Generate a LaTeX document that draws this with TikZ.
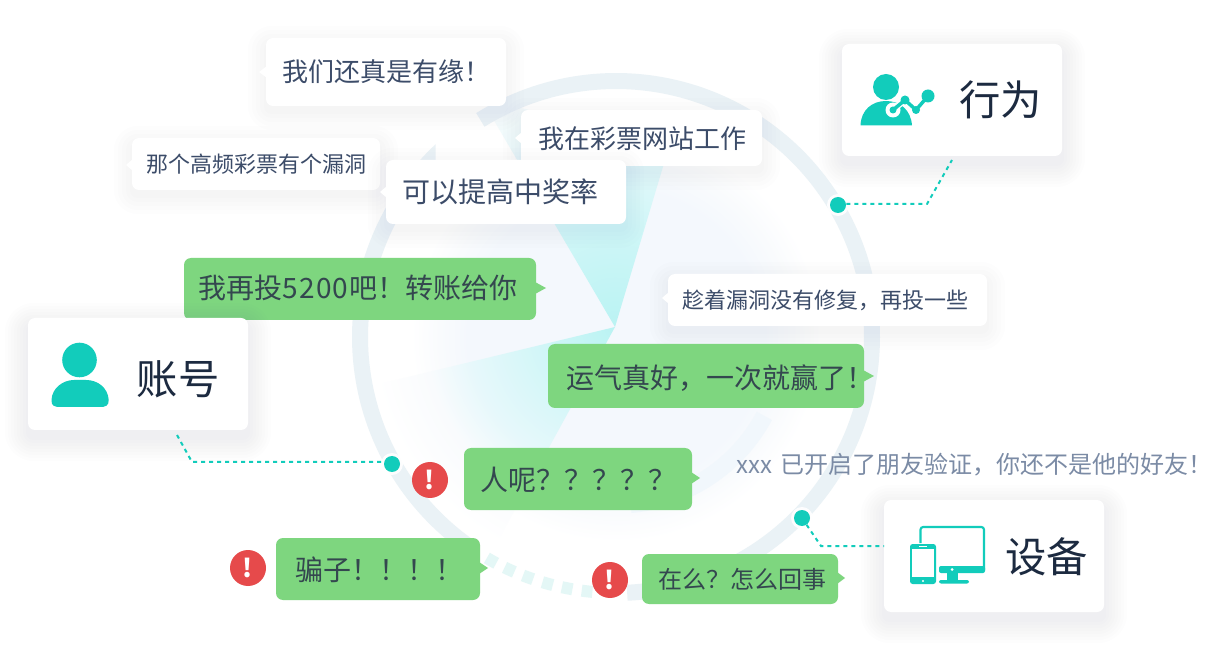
\documentclass[tikz,border=0pt]{standalone}
\usepackage{fontspec}
\setmainfont{Noto Sans CJK SC}
\usetikzlibrary{calc}
\definecolor{ringc}{HTML}{EAF2F6}
\definecolor{dashc}{HTML}{E4F7F6}
\definecolor{teal}{HTML}{12CCBB}
\definecolor{greenb}{HTML}{7ED67F}
\definecolor{redc}{HTML}{E64A4B}
\definecolor{txtw}{HTML}{3C4C69}
\definecolor{txtg}{HTML}{34474F}
\definecolor{txtc}{HTML}{1C2A40}
\definecolor{txtgray}{HTML}{7B8BA5}
\definecolor{shad}{HTML}{5868A0}
\definecolor{palea}{HTML}{F4F8FD}
\definecolor{paleb}{HTML}{F9FBFD}
\definecolor{bandc}{HTML}{F1F7FC}
\definecolor{cya}{HTML}{BAF3F3}
\definecolor{cyb}{HTML}{CFF6F7}
\definecolor{cyc}{HTML}{E6F8FB}
\definecolor{cyd}{HTML}{F8FCFD}
\pgfdeclareradialshading{discshade}{\pgfpoint{0bp}{0bp}}{color(0bp)=(palea); color(18bp)=(palea); color(21.5bp)=(paleb); color(25bp)=(white); color(50bp)=(white)}
\pgfdeclareradialshading{wedgeup}{\pgfpoint{0bp}{0bp}}{color(0bp)=(cya); color(10bp)=(cyb); color(18bp)=(cyc); color(25bp)=(cyd); color(50bp)=(cyd)}
\pgfdeclareradialshading{wedgeleft}{\pgfpoint{0bp}{0bp}}{color(0bp)=(cya); color(7bp)=(cyb); color(15bp)=(cyc); color(19.5bp)=(paleb); color(25bp)=(white); color(50bp)=(white)}
\tikzset{
  x=0.75pt,y=-0.75pt,
  bwhite/.style={fill=white,draw=none,rounded corners=5.25pt,inner sep=0pt},
  bgreen/.style={fill=greenb,draw=none,rounded corners=5.25pt,inner sep=0pt},
  lbl/.style={inner sep=0pt,anchor=base west},
  twhite/.style={lbl,text=txtw},
  tgreen/.style={lbl,text=txtg},
  tcard/.style={lbl,text=txtc,font=\fontsize{31}{31}\selectfont},
  ringpart/.style={draw=ringc,line width=12pt},
  ringdash/.style={draw=dashc,line width=9pt},
  conn/.style={draw=teal,line width=1.5pt,dash pattern=on 3pt off 3pt},
  halo/.style={circle,fill=white,minimum size=16.5pt,inner sep=0pt,fill opacity=.92},
  dotn/.style={circle,fill=teal,minimum size=12pt,inner sep=0pt},
  alert/.style={circle,fill=redc,minimum size=27pt,inner sep=0pt,text=white,font=\fontsize{19}{19}\selectfont\bfseries},
  icon/.style={fill=teal,draw=none}
}
% soft shadow: x1 y1 x2 y2 extent-list offset opacity
\newcommand\softshadow[7]{%
  \foreach \s in {#5}{%
    \pgfmathsetmacro\rr{(\s+6)*0.75}%
    \fill[shad,opacity=#7,rounded corners=\rr pt]
      ({#1-\s},{#2-\s+#6}) rectangle ({#3+\s},{#4+\s+#6});
  }}
\newcommand\bubshadow[4]{\softshadow{#1}{#2}{#3}{#4}{2,6,10,14,18}{6}{.012}}
\newcommand\cardshadow[4]{\softshadow{#1}{#2}{#3}{#4}{2,5,8,11,14,17,20,23}{8}{.012}}
% bubble: name style x1 y1 x2 y2 tipx tipy
\newcommand\bub[8]{%
  \fill[#2,rounded corners=0pt] ({#7<#3?#3+1:#5-1},{#8-6}) -- (#7,#8) -- ({#7<#3?#3+1:#5-1},{#8+6}) -- cycle;
  \node[#2,minimum width={(#5-#3)*0.75pt},minimum height={(#6-#4)*0.75pt}] (#1) at ({(#3+#5)/2},{(#4+#6)/2}) {};
}
\begin{document}
\begin{tikzpicture}
\useasboundingbox (0,0) rectangle (1214,648);
\fill[white] (0,0) rectangle (1214,648);
% background disc
\shade[shading=discshade] (616,337) circle[radius=205];
% left wedge
\begin{scope}
  \clip (615,327) -- (375,385) -- (345,470) -- (400,540) -- (495,546) -- cycle;
  \shade[shading=wedgeleft] (615,327) circle[radius=245];
\end{scope}
% upper wedge
\begin{scope}
  \clip (615,327) -- (482,100) -- (530,110) -- (680,110) -- cycle;
  \shade[shading=wedgeup] (615,327) circle[radius=250];
\end{scope}
% pale band
\draw[bandc,line width=13pt] plot[domain=28:85,samples=40] ({616+168*cos(\x)},{337+168*sin(\x)});
% ring
\draw[ringpart] plot[domain=238:447.5,samples=140] ({616+256*cos(\x)},{337+256*sin(\x)});
\begin{scope}
  \clip (0,0) -- (435.5,0) -- (435.5,300) -- (616,300) -- (616,648) -- (0,648) -- cycle;
  \draw[ringpart] plot[domain=125:230,samples=70] ({616+256*cos(\x)},{337+256*sin(\x)});
\end{scope}
\foreach \a in {96.5,101,105.5,110.1,114.6,119.1}{
  \draw[ringdash] plot[domain=\a-1.2:\a+1.2,samples=4] ({616+256*cos(\x)},{337+256*sin(\x)});
}
% dots
\node[halo] (haloA) at (838,205) {};
\node[halo] (haloB) at (392,464) {};
\node[halo] (haloC) at (802,518) {};
\node[dotn] (dotA) at (838,205) {};
\node[dotn] (dotB) at (392,464) {};
\node[dotn] (dotC) at (802,518) {};
% white bubbles
\bubshadow{266}{38}{506}{106}
\bub{sa}{bwhite}{266}{38}{506}{106}{259}{72}
\node[twhite,font=\fontsize{19.5}{19.5}\selectfont] (ta) at (282,82) {我们还真是有缘！};
\bubshadow{132}{138}{380}{190}
\bub{sb}{bwhite}{132}{138}{380}{190}{126}{165}
\node[twhite,font=\fontsize{16.5}{16.5}\selectfont] (tb) at (146,172.5) {那个高频彩票有个漏洞};
\bubshadow{521}{110}{762}{166}
\bub{sc}{bwhite}{521}{110}{762}{166}{515}{138}
\node[twhite,font=\fontsize{19.5}{19.5}\selectfont] (tc) at (538.5,149) {我在彩票网站工作};
\bubshadow{386}{160}{626}{224}
\bub{sd}{bwhite}{386}{160}{626}{224}{380}{192}
\node[twhite,font=\fontsize{21}{21}\selectfont] (td) at (402.5,202.5) {可以提高中奖率};
\bubshadow{668}{274}{987}{326}
\bub{se}{bwhite}{668}{274}{987}{326}{662}{298}
\node[twhite,font=\fontsize{16.5}{16.5}\selectfont] (te) at (682,308.5) {趁着漏洞没有修复，再投一些};
% green bubbles
\bub{ga}{bgreen}{184}{258}{536}{320}{546}{288}
\node[tgreen,font=\fontsize{21}{21}\selectfont] (tga) at (198,298.5) {我再投5\kern1pt 2\kern1pt 0\kern1pt 0\kern1pt 吧！转账给你};
\bub{gb}{bgreen}{548}{344}{864}{408}{874}{376}
\node[tgreen,font=\fontsize{21}{21}\selectfont] (tgb) at (566,388.5) {运气真好，一次就赢了！};
\bub{gc}{bgreen}{464}{448}{692}{510}{700}{478}
\node[tgreen,font=\fontsize{21}{21}\selectfont] (tgc) at (480,490.5) {人呢？？？？？};
\bub{gd}{bgreen}{276}{538}{480}{600}{488}{568}
\node[tgreen,font=\fontsize{21}{21}\selectfont] (tgd) at (295,580.5) {骗子！！！！};
\bub{ge}{bgreen}{642}{554}{838}{604}{845}{578}
\node[tgreen,font=\fontsize{18}{18}\selectfont] (tge) at (658,588) {在么？怎么回事};
% alerts
\node[alert] (ra) at (430,480) {!};
\node[alert] (rb) at (248,568) {!};
\node[alert] (rc) at (610,580) {!};
% status text
\node[lbl,text=txtgray,font=\fontsize{18}{18}\selectfont] (tx) at (736,474) {xxx\kern2.5pt{} 已开启了朋友验证，你还不是他的好友！};
% cards
\cardshadow{842}{44}{1062}{156}
\node[bwhite,minimum width=165pt,minimum height=84pt] (cardA) at (952,100) {};
\cardshadow{28}{318}{248}{430}
\node[bwhite,minimum width=165pt,minimum height=84pt] (cardB) at (138,374) {};
\cardshadow{884}{500}{1104}{612}
\node[bwhite,minimum width=165pt,minimum height=84pt] (cardC) at (994,556) {};
\node[tcard] (tca) at (959,116) {行为};
\node[tcard] (tcb) at (136.5,395) {账号};
\node[tcard] (tcc) at (1005,572) {设备};
% connectors
\coordinate (ka1) at (927,204);
\coordinate (ka2) at (952,160);
\coordinate (kb1) at (192,462);
\coordinate (kb2) at (177,435);
\coordinate (kc1) at (821,546);
\coordinate (kc2) at (884,546);
\draw[conn] (dotA.east) ++(0,-1) -- (ka1) -- (ka2);
\draw[conn] (kb2) -- (kb1) -- (dotB.west |- kb1);
\draw[conn] (dotC) -- (kc1) -- (kc2);
% icon: behaviour
\fill[icon] (886,87) circle[radius=13];
\fill[icon] (860.5,125.5) .. controls (861,110) and (872,101) .. (886,101) .. controls (900,101) and (911,110) .. (912,125.5) -- cycle;
\draw[white,line width=4.5pt,line join=round] (893,110) -- (905,100) -- (916,110) -- (928,96);
\fill[white] (893,110) circle[radius=7.5];
\draw[teal,line width=2.6pt,line join=round] (893,110) -- (905,100) -- (916,110) -- (928,96);
\fill[teal] (893,110) circle[radius=3.5];
\fill[teal] (905,100) circle[radius=4.5];
\fill[teal] (916,110) circle[radius=4];
\fill[teal] (928,96) circle[radius=6.5];
% icon: account
\fill[icon] (79.5,360) circle[radius=17.3];
\fill[icon] (51.5,400) .. controls (52,388) and (63,380) .. (74,380) -- (86,380) .. controls (98,380) and (108,388) .. (108.7,400) .. controls (109,406) and (105,407) .. (100,407) -- (60,407) .. controls (55,407) and (51,406) .. (51.5,400) -- cycle;
% icon: device
\draw[teal,line width=1.6pt,rounded corners=2pt] (920.5,543) -- (920.5,527) -- (984,527) -- (984,570);
\fill[icon,rounded corners=1.5pt] (939,566) -- (985,566) -- (985,573) -- (939,573) -- cycle;
\fill[white] (952,569.5) circle[radius=1.5];
\fill[icon] (947,573) rectangle (958,580);
\fill[icon,rounded corners=1.5pt] (939,580) rectangle (969,583.5);
\fill[icon,rounded corners=2pt] (910,544) rectangle (936,584);
\fill[white] (912,549) rectangle (934,577);
\fill[white] (923,581) circle[radius=1.2];
\fill[white] (919,546) rectangle (927,547);
\end{tikzpicture}
\end{document}
